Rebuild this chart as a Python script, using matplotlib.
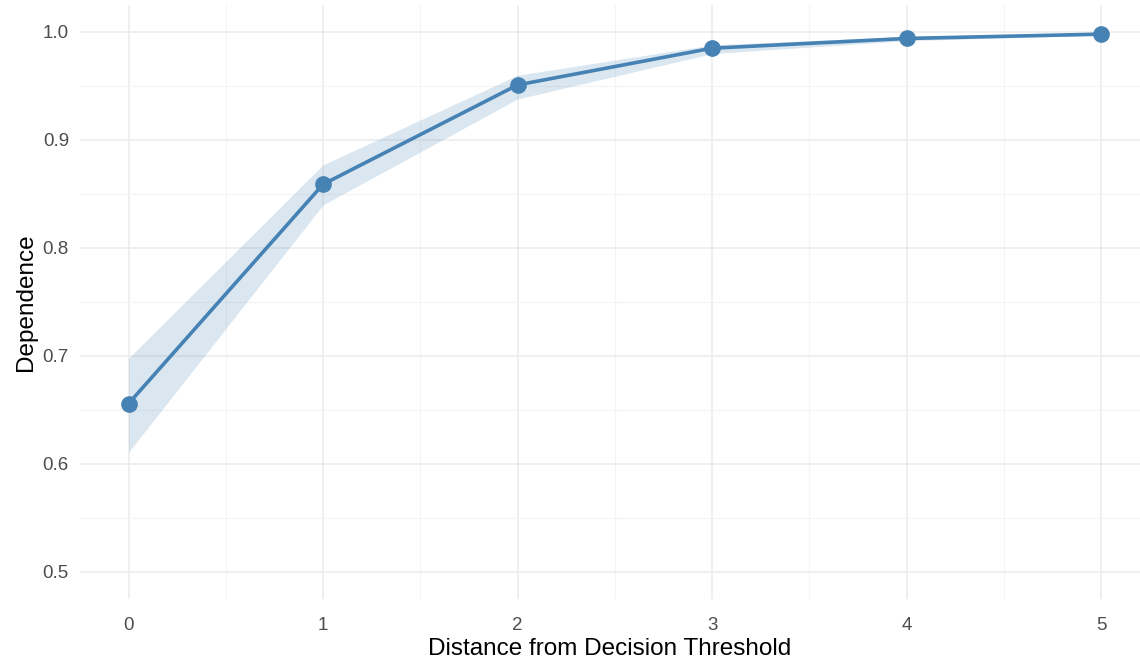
import matplotlib
matplotlib.use("Agg")
import matplotlib.pyplot as plt
import numpy as np

# dependence by distance from the decision threshold, with CI band
distance = [0, 1, 2, 3, 4, 5]
dependence = [0.656, 0.859, 0.951, 0.985, 0.994, 0.998]
ci_low = [0.611, 0.840, 0.938, 0.980, 0.992, 0.997]
ci_high = [0.698, 0.877, 0.960, 0.988, 0.996, 0.999]

plt.rcParams['font.family'] = ['Liberation Sans', 'DejaVu Sans']

fig = plt.figure(figsize=(11.4, 6.62), dpi=100)
ax = fig.add_axes([80 / 1140, 63 / 662, 1 - 80 / 1140, (599 - 5) / 662])

steel = '#4682B4'
ax.fill_between(distance, ci_low, ci_high, color=steel, alpha=0.2, linewidth=0, zorder=2)
ax.plot(distance, dependence, color=steel, linewidth=2.6, zorder=3)
ax.plot(distance, dependence, 'o', color=steel, markersize=11, zorder=4)

ax.set_xlim(-0.25, (1140 - 129) / 194.4)
ax.set_ylim(0.475, 1.025)
ax.set_xticks(range(6))
ax.set_xticks(np.arange(0.5, 5.5, 1), minor=True)
ax.set_yticks([0.5, 0.6, 0.7, 0.8, 0.9, 1.0])
ax.set_yticks(np.arange(0.55, 1.0, 0.1), minor=True)
ax.set_yticklabels(['0.5', '0.6', '0.7', '0.8', '0.9', '1.0'])

ax.grid(which='major', color='#EBEBEB', linewidth=1.1, zorder=0)
ax.grid(which='minor', color='#F4F4F4', linewidth=0.8, zorder=0)
ax.set_axisbelow(True)
for s in ax.spines.values():
    s.set_visible(False)
ax.tick_params(which='both', length=0)
ax.tick_params(axis='x', labelsize=13.5, labelcolor='#4D4D4D', pad=13)
ax.tick_params(axis='y', labelsize=13.5, labelcolor='#4D4D4D', pad=8)

ax.set_xlabel('Distance from Decision Threshold', fontsize=17.5, color='black', labelpad=3)
ax.set_ylabel('Dependence', fontsize=17.5, color='black', labelpad=4)

fig.savefig('out.png', dpi=100)
